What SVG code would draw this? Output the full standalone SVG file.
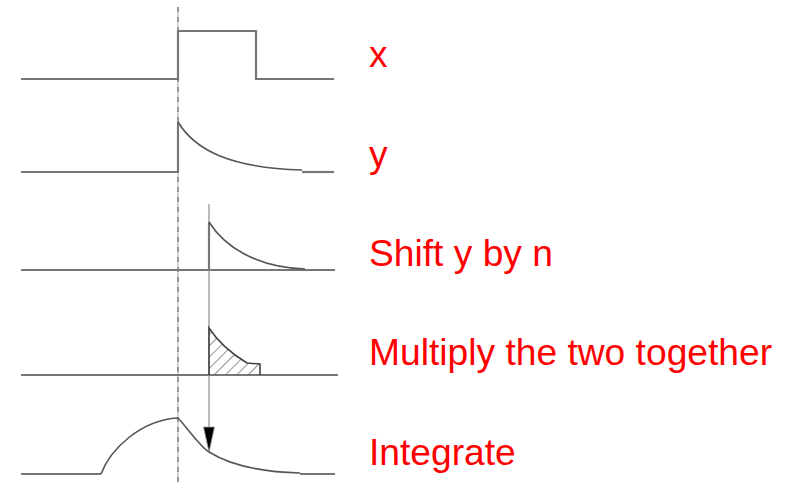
<svg xmlns="http://www.w3.org/2000/svg" width="785" height="482" viewBox="0 0 785 482">
<defs>
<style>
.sig{fill:none;stroke:#777;stroke-width:2.2}
.crv{fill:none;stroke:#555;stroke-width:1.6}
.lbl{font-family:"Liberation Sans",Arial,sans-serif;font-size:37.2px;fill:#ff0000}
</style>
<pattern id="hatch" patternUnits="userSpaceOnUse" width="8" height="8" patternTransform="rotate(45)">
<line x1="0" y1="0" x2="0" y2="8" stroke="#666" stroke-width="1.4"/>
</pattern>
<clipPath id="tri"><path d="M209,328 Q222,348 247,363 L260,364 L260,375 L209,375 Z"/></clipPath>
</defs>
<rect width="785" height="482" fill="#fff"/>
<g id="connectors">
<line x1="178" y1="7" x2="178" y2="482" stroke="#ccc" stroke-width="1.6"/>
<line x1="178" y1="7" x2="178" y2="482" stroke="#888" stroke-width="1.6" stroke-dasharray="5,5"/>
<line x1="209" y1="204" x2="209" y2="428" stroke="#bbb" stroke-width="2"/>
<polygon points="203.5,427 214.5,427 209,452" fill="#000" stroke="#999" stroke-width="0.8"/>
</g>
<g id="x">
<path class="sig" d="M21,79 L178,79 L178,31 L256,31 L256,79 L334,79"/>
<text class="lbl" x="369" y="67">x</text>
</g>
<g id="y">
<path class="sig" d="M21,172 L178,172 L178,122"/>
<path class="crv" d="M178,122 C195,150 230,168 302,170"/>
<path class="sig" d="M302,172 L334,172"/>
<text class="lbl" x="369" y="167">y</text>
</g>
<g id="shift">
<path class="sig" d="M21,270 L335,270"/>
<path class="sig" d="M209,270 L209,222"/>
<path class="crv" d="M209,222 C224,246 255,267 305,269"/>
<text class="lbl" x="369" y="266">Shift y by n</text>
</g>
<g id="multiply">
<path class="sig" d="M21,375 L338,375"/>
<rect x="205" y="325" width="60" height="55" fill="url(#hatch)" clip-path="url(#tri)"/>
<path d="M209,375 L209,328 Q222,348 247,363 L260,364 L260,375" fill="none" stroke="#444" stroke-width="1.6"/>
<text class="lbl" x="369" y="365">Multiply the two together</text>
</g>
<g id="integrate">
<path class="sig" d="M21,474 L101,474"/>
<path class="crv" d="M101,474 C110,450 140,420 178,418 C185,425 200,447 209,452 C230,465 260,472 300,473"/>
<path class="sig" d="M300,474 L335,474"/>
<text class="lbl" x="369" y="465">Integrate</text>
</g>
</svg>
